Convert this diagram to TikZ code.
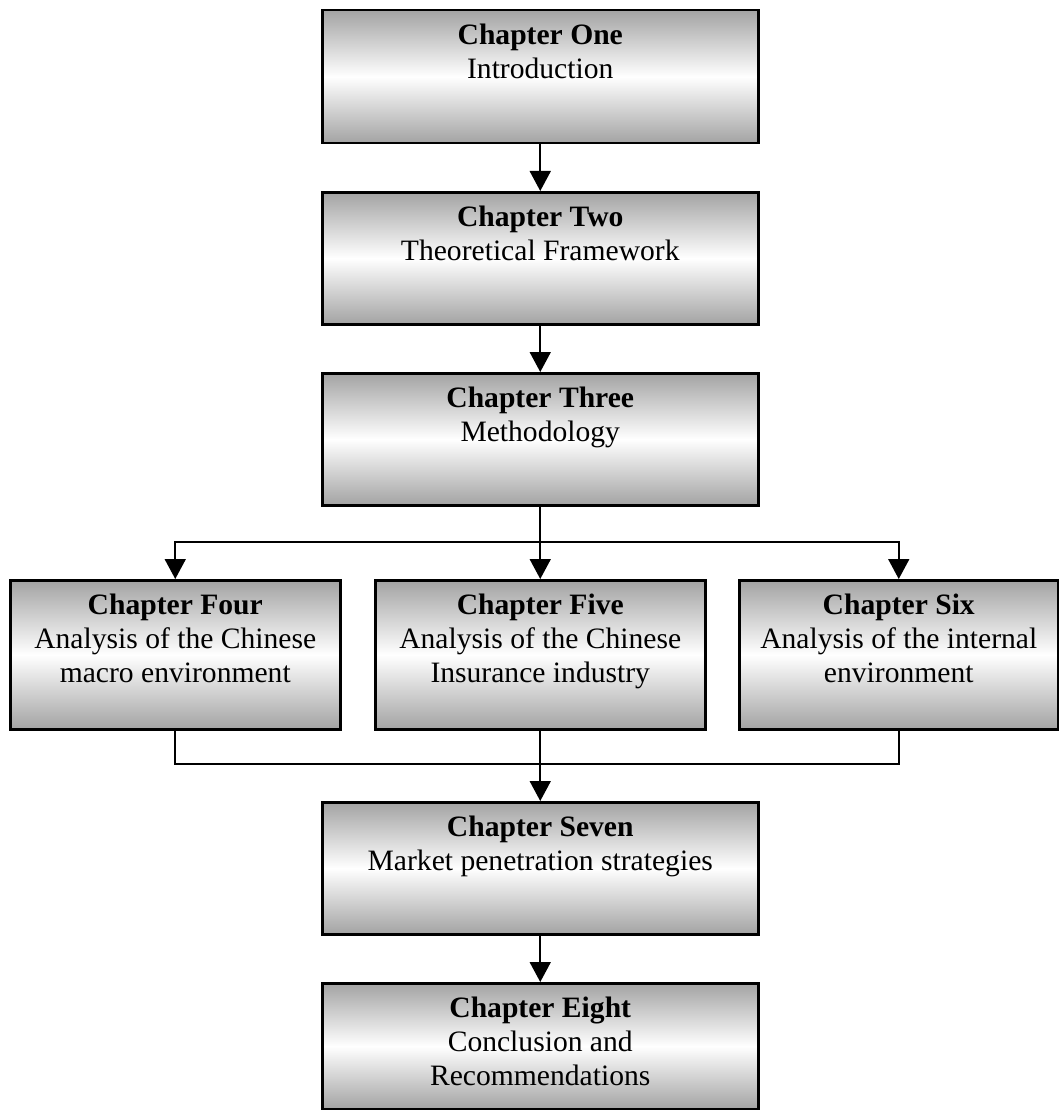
\documentclass[tikz,border=0pt]{standalone}
\usepackage{fontspec}
\setmainfont{Liberation Serif}
\usetikzlibrary{arrows.meta}
\definecolor{boxgray}{RGB}{163,163,163}
\tikzset{
  box/.style={draw=black, line width=2.5pt, top color=boxgray, bottom color=boxgray, middle color=white, inner sep=0pt, anchor=north west},
  lbl/.style={anchor=north, align=center, font=\fontsize{29.6}{34}\selectfont, inner sep=0pt},
  conn/.style={line width=1.8pt, -{Triangle[length=20pt,width=21pt]}},
  plain/.style={line width=1.8pt},
}
\begin{document}
\begin{tikzpicture}[x=1pt,y=1pt]
\useasboundingbox (0,0) rectangle (1058,-1110);
% boxes
\node[box, minimum width=436pt, minimum height=133pt] (b1) at (321,-9) {};
\node[box, minimum width=436pt, minimum height=132pt] (b2) at (321,-191) {};
\node[box, minimum width=436pt, minimum height=132pt] (b3) at (321,-372) {};
\node[box, minimum width=330pt, minimum height=149pt] (b4) at (9,-579) {};
\node[box, minimum width=330pt, minimum height=149pt] (b5) at (374,-579) {};
\node[box, minimum width=319pt, minimum height=149pt] (b6) at (738,-579) {};
\node[box, minimum width=436pt, minimum height=132pt] (b7) at (321,-801) {};
\node[box, minimum width=436pt, minimum height=126pt] (b8) at (321,-982) {};
% labels
\node[lbl] (t1) at ([yshift=-15pt]b1.north) {\textbf{Chapter One}\\Introduction};
\node[lbl] (t2) at ([yshift=-15pt]b2.north) {\textbf{Chapter Two}\\Theoretical Framework};
\node[lbl] (t3) at ([yshift=-15pt]b3.north) {\textbf{Chapter Three}\\Methodology};
\node[lbl] (t4) at ([yshift=-15pt]b4.north) {\textbf{Chapter Four}\\Analysis of the Chinese\\macro environment};
\node[lbl] (t5) at ([yshift=-15pt]b5.north) {\textbf{Chapter Five}\\Analysis of the Chinese\\Insurance industry};
\node[lbl] (t6) at ([yshift=-15pt]b6.north) {\textbf{Chapter Six}\\Analysis of the internal\\environment};
\node[lbl] (t7) at ([yshift=-15pt]b7.north) {\textbf{Chapter Seven}\\Market penetration strategies};
\node[lbl] (t8) at ([yshift=-15pt]b8.north) {\textbf{Chapter Eight}\\Conclusion and\\Recommendations};
% connectors
\coordinate (split) at (b3.south |- 0,-542);
\coordinate (merge) at (b5.south |- 0,-764);
\draw[conn] (b1.south) -- (b2.north);
\draw[conn] (b2.south) -- (b3.north);
\draw[conn] (b3.south) -- (b5.north);
\draw[conn] (split) -| (b4.north);
\draw[conn] (split) -| (b6.north);
\draw[conn] (b5.south) -- (b7.north);
\draw[plain] (b4.south) |- (merge);
\draw[plain] (b6.south) |- (merge);
\draw[conn] (b7.south) -- (b8.north);
\end{tikzpicture}
\end{document}
